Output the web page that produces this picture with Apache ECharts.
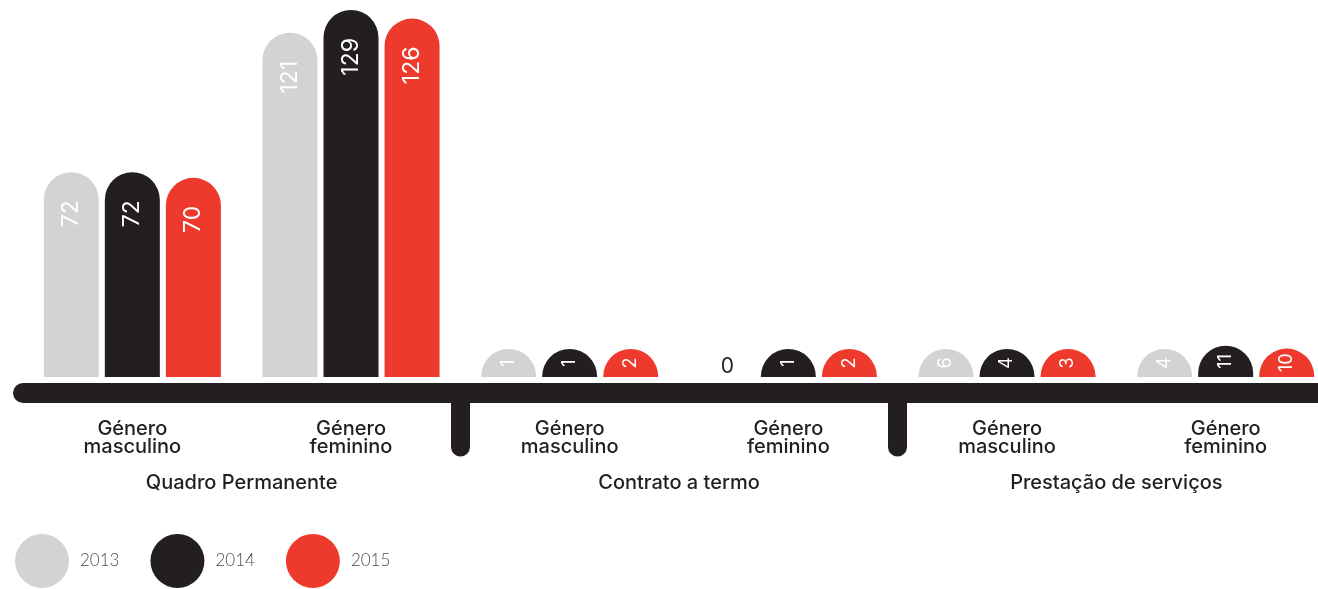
<!DOCTYPE html>
<html>
<head>
<meta charset="utf-8">
<script src="https://cdn.jsdelivr.net/npm/echarts@6/dist/echarts.min.js"></script>
<style>
  html, body { margin: 0; padding: 0; background: #fff; }
  #chart { width: 1318px; height: 589px; }
</style>
</head>
<body>
<div id="chart"></div>
<script>
const categories = [
  'Género\nmasculino', 'Género\nfeminino',
  'Género\nmasculino', 'Género\nfeminino',
  'Género\nmasculino', 'Género\nfeminino'
]
const groups = ['Quadro Permanente', 'Contrato a termo', 'Prestação de serviços']
const years = ['2013', '2014', '2015']
const v2013 = [72, 121, 1, 0, 6, 4]
const v2014 = [72, 129, 1, 1, 4, 11]
const v2015 = [70, 126, 2, 2, 3, 10]
const colors = ['#d1d3d4', '#231f20', '#ee3a2c']

const ink = '#231f20'
const font = 'Inter, "Noto Sans", sans-serif'

const chart = echarts.init(document.getElementById('chart'))

// short bars get their number centred, tall ones near the rounded top
function itemFor(v) {
  if (v === 0) {
    return {
      value: v,
      itemStyle: { color: 'rgba(0,0,0,0)' },
      label: { rotate: 0, position: 'insideBottom', distance: 0, align: 'center', verticalAlign: 'bottom', color: ink, fontSize: 21 }
    }
  }
  if (v < 20) {
    return { value: v, label: { position: 'inside', align: 'center', verticalAlign: 'middle', fontSize: 18 } }
  }
  return v
}

function makeSeries(name, values, color) {
  return {
    name,
    type: 'bar',
    xAxisIndex: 0,
    barWidth: 55,
    barGap: '11%',
    barMinHeight: 28,
    itemStyle: { color, borderRadius: [27.5, 27.5, 0, 0] },
    label: {
      show: true,
      position: 'insideTop',
      distance: 28,
      rotate: 90,
      align: 'right',
      verticalAlign: 'middle',
      color: '#fff',
      fontSize: 23,
      fontFamily: font,
      fontWeight: 400
    },
    data: values.map(itemFor)
  }
}

chart.setOption({
  animation: false,
  color: colors,
  grid: { left: 23, width: 1312, top: 10, bottom: 212, outerBoundsMode: 'none' },
  legend: {
    left: 15,
    top: 534,
    padding: 0,
    icon: 'circle',
    itemWidth: 54,
    itemHeight: 54,
    itemGap: 31,
    textStyle: { color: '#4d4d4f', fontSize: 17, fontFamily: 'Lato, sans-serif', fontWeight: 300, padding: [0, 0, 0, 6] },
    data: years
  },
  xAxis: [
    {
      type: 'category',
      data: categories,
      axisLine: { show: false },
      axisTick: { show: false },
      axisLabel: { show: false }
    },
    {
      type: 'category',
      data: categories,
      position: 'bottom',
      offset: 16,
      axisLine: { show: true, lineStyle: { color: ink, width: 20, cap: 'round' } },
      axisTick: {
        show: true,
        length: 54,
        interval: (i) => i === 2 || i === 4,
        lineStyle: { color: ink, width: 19, cap: 'round' }
      },
      axisLabel: { margin: 27, color: ink, fontSize: 20, lineHeight: 18, fontFamily: font, fontWeight: 500 }
    },
    {
      type: 'category',
      data: groups,
      position: 'bottom',
      offset: 16,
      axisLine: { show: false },
      axisTick: { show: false },
      axisLabel: { margin: 80, color: ink, fontSize: 20, fontFamily: font, fontWeight: 500 }
    }
  ],
  yAxis: { type: 'value', min: 0, max: 129, show: false },
  series: [
    makeSeries(years[0], v2013, colors[0]),
    makeSeries(years[1], v2014, colors[1]),
    makeSeries(years[2], v2015, colors[2])
  ]
})
</script>
</body>
</html>
